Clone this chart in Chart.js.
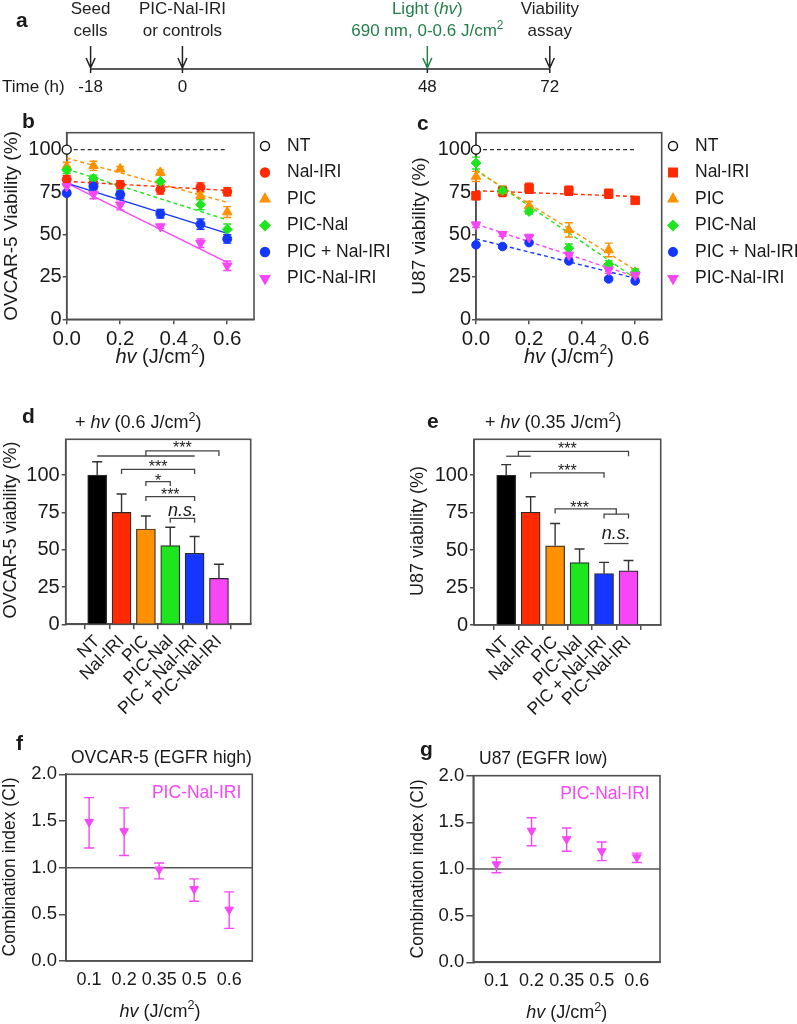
<!DOCTYPE html>
<html>
<head>
<meta charset="utf-8">
<script src="https://cdn.jsdelivr.net/npm/chart.js@4.4.1/dist/chart.umd.min.js"></script>
<style>
  body { margin: 0; background: #fff; }
  #page { position: relative; width: 797px; height: 1024px; overflow: hidden; background: #fff; }
  .panel { position: absolute; }
</style>
</head>
<body>
<div id="page"></div>
<script>
// ---------- data ----------
const timePoints = [-18, 0, 48, 72];
const timeTitles = [["Seed", "cells"], ["PIC-Nal-IRI", "or controls"], ["Light (_hv_)", "690 nm, 0-0.6 J/cm^2"], ["Viability", "assay"]];

const groups = ["NT", "Nal-IRI", "PIC", "PIC-Nal", "PIC + Nal-IRI", "PIC-Nal-IRI"];
const doses = [0, 0.1, 0.2, 0.35, 0.5, 0.6];
const fitDoses = [0, 0.6];
const viabilityTicks = [0, 25, 50, 75, 100];
const doseTicks = [0, 0.2, 0.4, 0.6];

// b: OVCAR-5 viability (%) vs light dose
const ovNT = [100];
const ovNalIRI = [82.5, 80, 79.3, 76.4, 77.9, 75.2];
const ovNalIRISd = [2.3, 2, 2.4, 2.6, 2.5, 2.4];
const ovNalIRIFit = [81.3, 76];
const ovPIC = [90.1, 90.5, 88.6, 86.6, 72.8, 63.2];
const ovPICSd = [2.5, 2.7, 1.5, 1.5, 2, 3.2];
const ovPICFit = [95.1, 68.9];
const ovPICNal = [88, 83, 73.8, 81.3, 67.5, 53];
const ovPICNalSd = [2, 2, 2.5, 4, 2.9, 3.2];
const ovPICNalFit = [88.6, 58.6];
const ovCombo = [74.4, 78.3, 73.5, 62.2, 56.1, 47.4];
const ovComboSd = [1, 2, 2, 2.5, 3, 2.5];
const ovComboFit = [80.3, 50.7];
const ovPNI = [78.3, 73.8, 67.5, 54.7, 44.8, 31.6];
const ovPNISd = [2, 2.7, 3, 1, 2.5, 2.8];
const ovPNIFit = [80.3, 33.6];

// c: U87 viability (%) vs light dose
const u87NT = [100];
const u87NalIRI = [72.8, 75.4, 77.3, 75.8, 74.0, 70.1];
const u87NalIRISd = [2, 3, 3, 2.7, 2.7, 1.5];
const u87NalIRIFit = [75.8, 72.4];
const u87PIC = [84.2, 75.8, 66.9, 52.7, 40.9, 27.7];
const u87PICSd = [3, 2, 2.5, 4.2, 4, 2];
const u87PICFit = [87.6, 29.1];
const u87PICNal = [92.1, 75.8, 63.6, 41.9, 32.4, 27.7];
const u87PICNalSd = [3.5, 2, 1.5, 2.5, 2.2, 2];
const u87PICNalFit = [88.2, 24.2];
const u87Combo = [43.9, 42.9, 45.2, 34.4, 23.8, 22.6];
const u87ComboSd = [1, 1, 1, 1, 1, 1];
const u87ComboFit = [47.4, 24.2];
const u87PNI = [55.7, 50.2, 48.2, 37.9, 29.1, 26.1];
const u87PNISd = [1.5, 1.2, 1.8, 1.5, 2, 1.5];
const u87PNIFit = [56.1, 25.2];

// d, e: viability (%) at a single light dose
const ovBar = [100, 75, 63.9, 52.7, 47.6, 30.8];
const ovBarSd = [9, 12.3, 8.7, 12.3, 11.2, 9.4];
const u87Bar = [100, 75.3, 52.9, 41.6, 34.4, 36.2];
const u87BarSd = [7.1, 10.3, 14.9, 9.1, 7.4, 6.9];

// significance brackets: [bar index, viability] corners, and labels
const ovSigLines = [
  [[0, 112.8], [4, 112.8]],
  [[2, 112.8], [2, 116.2], [5, 116.2], [5, 112.8]],
  [[1, 100.8], [1, 103.9], [4, 103.9], [4, 100.8]],
  [[2, 92.7], [2, 95.6], [3, 95.6], [3, 92.7]],
  [[2, 82.7], [2, 85.6], [4, 85.6], [4, 82.7]],
  [[3, 68.1], [3, 71.0], [4, 71.0], [4, 68.1]]
];
const ovSigText = [["***", 3.5, 120.2], ["***", 2.5, 107.4], ["*", 2.5, 98.5], ["***", 3, 88.9], ["n.s.", 3.5, 76.2]];
const u87SigLines = [
  [[0, 112.7], [1, 112.7]],
  [[0.5, 112.7], [0.5, 116.0], [5, 116.0], [5, 112.7]],
  [[1, 98.4], [1, 101.6], [4, 101.6], [4, 98.4]],
  [[2, 74.4], [2, 77.6], [4.5, 77.6], [4.5, 74.0]],
  [[4, 71.1], [4, 74.0], [5, 74.0], [5, 71.1]],
  [[4, 54.4], [5, 54.4]]
];
const u87SigText = [["***", 2.5, 119.5], ["***", 2.5, 105.1], ["***", 3, 80.7], ["n.s.", 4.5, 60.7]];

// f, g: combination index of PIC-Nal-IRI
const ciDoses = ["0.1", "0.2", "0.35", "0.5", "0.6"];
const ciTicks = [0, 0.5, 1, 1.5, 2];
const ciRef = 1;
const ovCI = [1.49, 1.39, 0.98, 0.77, 0.55];
const ovCILow = [1.21, 1.13, 0.88, 0.64, 0.35];
const ovCIHigh = [1.75, 1.64, 1.05, 0.88, 0.74];
const u87CI = [1.05, 1.41, 1.32, 1.19, 1.125];
const u87CILow = [0.96, 1.25, 1.19, 1.09, 1.07];
const u87CIHigh = [1.125, 1.55, 1.44, 1.29, 1.17];

// ---------- styles ----------
const FONT = '"Liberation Sans", Arial, Helvetica, sans-serif';
const INK = '#1a1a1a';
const AXIS = '#505050';
const GREEN = '#23804a';
const MAGENTA = '#f646f6';
const seriesColors = ['#ff2a00', '#ff9000', '#1ee61e', '#1436ff', MAGENTA];
const barColors = ['#000000', '#ff2a00', '#ff9000', '#1ee61e', '#1436ff', MAGENTA];

Chart.defaults.font.family = FONT;
Chart.defaults.color = INK;

const page = document.getElementById('page');

// text with _italic_ runs and ^superscript characters
function drawRich(ctx, str, x, y, o = {}) {
  const size = o.size || 17;
  const parts = [];
  let it = false, buf = '';
  const push = () => { if (buf) parts.push({ t: buf, it }); buf = ''; };
  for (let i = 0; i < str.length; i++) {
    const ch = str[i];
    if (ch === '_') { push(); it = !it; }
    else if (ch === '^') { push(); parts.push({ t: str[++i], it, sup: true }); }
    else buf += ch;
  }
  push();
  const font = p => `${p.it ? 'italic ' : ''}${o.bold ? 'bold ' : ''}${p.sup ? size * 0.7 : size}px ${FONT}`;
  ctx.save();
  let w = 0;
  parts.forEach(p => { ctx.font = font(p); p.w = ctx.measureText(p.t).width; w += p.w; });
  ctx.translate(x, y);
  if (o.rot) ctx.rotate(o.rot * Math.PI / 180);
  ctx.fillStyle = o.color || INK;
  ctx.textBaseline = o.base || 'middle';
  ctx.textAlign = 'left';
  let cx = o.align === 'center' ? -w / 2 : o.align === 'right' ? -w : 0;
  parts.forEach(p => { ctx.font = font(p); ctx.fillText(p.t, cx, p.sup ? -size * 0.33 : 0); cx += p.w; });
  ctx.restore();
}

function addCanvas(box) {
  const div = document.createElement('div');
  div.className = 'panel';
  div.style.left = box[0] + 'px';
  div.style.top = box[1] + 'px';
  div.style.width = box[2] + 'px';
  div.style.height = box[3] + 'px';
  const cv = document.createElement('canvas');
  cv.width = box[2];
  cv.height = box[3];
  cv.style.width = box[2] + 'px';
  cv.style.height = box[3] + 'px';
  div.appendChild(cv);
  page.appendChild(div);
  return cv.getContext('2d');
}

const framePlugin = {
  id: 'frame',
  beforeDatasetsDraw(chart) {
    const { ctx, chartArea: a } = chart;
    ctx.save();
    ctx.strokeStyle = AXIS;
    ctx.lineWidth = 1.6;
    ctx.strokeRect(a.left, a.top, a.right - a.left, a.bottom - a.top);
    ctx.restore();
  }
};

function drawErrors(chart, wantUp) {
  const { ctx } = chart;
  const ys = chart.scales.y;
  chart.data.datasets.forEach((ds, di) => {
    const eb = ds.errorBar;
    if (!eb || !!eb.up !== wantUp) return;
    const meta = chart.getDatasetMeta(di);
    ctx.save();
    ctx.strokeStyle = eb.color;
    ctx.lineWidth = 1.4;
    meta.data.forEach((el, i) => {
      const v = ds.data[i].y;
      let hi, lo;
      if (eb.hi) { hi = eb.hi[i]; lo = eb.lo[i]; }
      else { hi = v + eb.sd[i]; lo = eb.up ? v : v - eb.sd[i]; }
      const x = el.x, yh = ys.getPixelForValue(hi), yl = ys.getPixelForValue(lo);
      ctx.beginPath();
      ctx.moveTo(x, yh); ctx.lineTo(x, yl);
      ctx.moveTo(x - eb.cap / 2, yh); ctx.lineTo(x + eb.cap / 2, yh);
      if (!eb.up) { ctx.moveTo(x - eb.cap / 2, yl); ctx.lineTo(x + eb.cap / 2, yl); }
      ctx.stroke();
    });
    ctx.restore();
  });
}
const errorPlugin = {
  id: 'errors',
  beforeDatasetsDraw(chart) { drawErrors(chart, false); },
  afterDatasetsDraw(chart) { drawErrors(chart, true); }
};

function textPlugin(box, items) {
  return {
    id: 'texts',
    afterDraw(chart) {
      items.forEach(it => drawRich(chart.ctx, it.t, it.x - box[0], it.y - box[1], it));
    }
  };
}

// chart whose plot rectangle is pinned to area = [left, top, right, bottom] on the page
function panel(box, area, config) {
  const ctx = addCanvas(box);
  const o = config.options;
  o.responsive = false;
  o.animation = false;
  o.devicePixelRatio = 1;
  o.events = [];
  o.layout = { padding: { left: 0, top: area[1] - box[1], right: box[0] + box[2] - area[2], bottom: 0 } };
  o.scales.x.afterFit = s => { s.height = box[1] + box[3] - area[3]; };
  o.scales.y.afterFit = s => { s.width = area[0] - box[0]; };
  o.plugins = Object.assign({ legend: { display: false }, tooltip: { enabled: false } }, o.plugins || {});
  return new Chart(ctx, config);
}

function axisStyle(extra) {
  return Object.assign({
    grid: { drawOnChartArea: false, tickLength: 4, color: AXIS, lineWidth: 1.5 },
    border: { color: AXIS, width: 1.6 }
  }, extra);
}

// ---------- a: timeline ----------
{
  const ctx = addCanvas([0, 0, 797, 100]);
  const lineY = 69;
  new Chart(ctx, {
    type: 'scatter',
    data: { datasets: [{ data: timePoints.map(t => ({ x: t, y: 0 })), pointRadius: 0 }] },
    options: {
      responsive: false, animation: false, devicePixelRatio: 1, events: [],
      layout: { padding: { left: 90.6, right: 797 - 549.8, top: 60, bottom: 20 } },
      scales: { x: { type: 'linear', min: -18, max: 72, display: false }, y: { min: -1, max: 1, display: false } },
      plugins: { legend: { display: false }, tooltip: { enabled: false } }
    },
    plugins: [{
      id: 'timeline',
      afterDraw(chart) {
        const c = chart.ctx, xs = chart.scales.x;
        c.save();
        c.strokeStyle = '#222';
        c.lineWidth = 1.5;
        c.beginPath();
        c.moveTo(xs.getPixelForValue(timePoints[0]), lineY);
        c.lineTo(xs.getPixelForValue(timePoints[timePoints.length - 1]), lineY);
        c.stroke();
        timePoints.forEach((t, i) => {
          const x = xs.getPixelForValue(t);
          const col = i === 2 ? GREEN : '#222';
          c.strokeStyle = '#222';
          c.beginPath(); c.moveTo(x, lineY); c.lineTo(x, lineY + 4); c.stroke();
          c.strokeStyle = col;
          c.beginPath();
          c.moveTo(x, 46); c.lineTo(x, lineY - 1);
          c.moveTo(x - 4.5, lineY - 11); c.lineTo(x, lineY - 1); c.lineTo(x + 4.5, lineY - 11);
          c.stroke();
          drawRich(c, timeTitles[i][0], x, 9, { align: 'center', color: col });
          drawRich(c, timeTitles[i][1], x, 31, { align: 'center', color: col });
          drawRich(c, String(t), x, 87.5, { align: 'center' });
        });
        drawRich(c, 'Time (h)', 2, 87.5, {});
        drawRich(c, 'a', 16, 27, { bold: true, size: 21, base: 'alphabetic' });
        c.restore();
      }
    }]
  });
}

// ---------- b, c: viability vs dose ----------
function doseDatasets(nt, series, markers, dashed) {
  const sets = [{
    type: 'line', data: fitDoses.map(x => ({ x, y: nt[0] })), borderColor: '#333', borderWidth: 1.3,
    borderDash: [4, 3], pointRadius: 0, order: 20, clip: false
  }];
  series.forEach((s, k) => {
    const col = seriesColors[k];
    sets.push({
      type: 'line', data: fitDoses.map((x, i) => ({ x, y: s.fit[i] })), borderColor: col, borderWidth: 1.4,
      borderDash: dashed[k] ? [4, 3] : [], pointRadius: 0, order: 10, clip: false
    });
    sets.push({
      type: 'scatter', data: doses.map((x, i) => ({ x, y: s.vals[i] })),
      pointStyle: markers[k].style, pointRotation: markers[k].rot, pointRadius: markers[k].r,
      pointBackgroundColor: col, pointBorderColor: col, pointBorderWidth: 1, order: 6 - k, clip: false,
      errorBar: { sd: s.sd, cap: 8, color: col }
    });
  });
  sets.push({
    type: 'scatter', data: [{ x: 0, y: nt[0] }], pointStyle: 'circle', pointRadius: 4.5,
    pointBackgroundColor: '#fff', pointBorderColor: '#111', pointBorderWidth: 1.4, order: 0, clip: false
  });
  return sets;
}

function legendPlugin(box, markers, mx, tx) {
  return {
    id: 'legendDraw',
    afterDraw(chart) {
      const c = chart.ctx;
      groups.forEach((g, i) => {
        const y = 146 + 26.5 * i - box[1];
        c.save();
        if (i === 0) {
          c.fillStyle = '#fff'; c.strokeStyle = '#111';
          Chart.helpers.drawPoint(c, { pointStyle: 'circle', radius: 4.5, rotation: 0, borderWidth: 1.4 }, mx - box[0], y);
        } else {
          const m = markers[i - 1];
          c.fillStyle = seriesColors[i - 1]; c.strokeStyle = seriesColors[i - 1];
          Chart.helpers.drawPoint(c, { pointStyle: m.style, radius: m.r, rotation: m.rot, borderWidth: 1 }, mx - box[0], y);
        }
        c.restore();
        drawRich(c, g, tx - box[0], y, { size: 17.5 });
      });
    }
  };
}

function doseScales() {
  return {
    x: axisStyle({
      type: 'linear', min: 0, max: 0.7,
      afterBuildTicks: s => { s.ticks = doseTicks.map(v => ({ value: v })); },
      ticks: { callback: v => v.toFixed(1), font: { size: 20.5 }, padding: 3, maxRotation: 0, color: INK },
      grid: { drawOnChartArea: false, tickLength: 5, color: AXIS, lineWidth: 1.5 }
    }),
    y: axisStyle({
      min: 0, max: 110,
      afterBuildTicks: s => { s.ticks = viabilityTicks.map(v => ({ value: v })); },
      ticks: { font: { size: 20 }, padding: 1, color: INK }
    })
  };
}

{
  const box = [0, 110, 400, 270];
  const markers = [
    { style: 'circle', rot: 0, r: 4.5 }, { style: 'triangle', rot: 0, r: 5.5 }, { style: 'rectRot', rot: 0, r: 5 },
    { style: 'circle', rot: 0, r: 4.5 }, { style: 'triangle', rot: 180, r: 5.5 }
  ];
  const series = [
    { vals: ovNalIRI, sd: ovNalIRISd, fit: ovNalIRIFit }, { vals: ovPIC, sd: ovPICSd, fit: ovPICFit },
    { vals: ovPICNal, sd: ovPICNalSd, fit: ovPICNalFit }, { vals: ovCombo, sd: ovComboSd, fit: ovComboFit },
    { vals: ovPNI, sd: ovPNISd, fit: ovPNIFit }
  ];
  panel(box, [66.7, 132.7, 254, 319.3], {
    type: 'scatter',
    data: { datasets: doseDatasets(ovNT, series, markers, [true, true, true, false, false]) },
    options: { scales: doseScales() },
    plugins: [framePlugin, errorPlugin, legendPlugin(box, markers, 265, 287), textPlugin(box, [
      { t: 'b', x: 22, y: 128, bold: true, size: 21, base: 'alphabetic' },
      { t: 'OVCAR-5 Viability (%)', x: 12, y: 226, rot: -90, size: 19, align: 'center' },
      { t: '_hv_ (J/cm^2)', x: 160.4, y: 357, size: 20, align: 'center' }
    ])]
  });
}

{
  const box = [400, 110, 397, 270];
  const markers = [
    { style: 'rect', rot: 0, r: 6 }, { style: 'triangle', rot: 0, r: 5.5 }, { style: 'rectRot', rot: 0, r: 5 },
    { style: 'circle', rot: 0, r: 4.3 }, { style: 'triangle', rot: 180, r: 5.5 }
  ];
  const series = [
    { vals: u87NalIRI, sd: u87NalIRISd, fit: u87NalIRIFit }, { vals: u87PIC, sd: u87PICSd, fit: u87PICFit },
    { vals: u87PICNal, sd: u87PICNalSd, fit: u87PICNalFit }, { vals: u87Combo, sd: u87ComboSd, fit: u87ComboFit },
    { vals: u87PNI, sd: u87PNISd, fit: u87PNIFit }
  ];
  panel(box, [476, 132.7, 661.7, 319.3], {
    type: 'scatter',
    data: { datasets: doseDatasets(u87NT, series, markers, [true, true, true, true, true]) },
    options: { scales: doseScales() },
    plugins: [framePlugin, errorPlugin, legendPlugin(box, markers, 673, 695), textPlugin(box, [
      { t: 'c', x: 417, y: 130, bold: true, size: 21, base: 'alphabetic' },
      { t: 'U87 viability (%)', x: 420, y: 226, rot: -90, size: 19, align: 'center' },
      { t: '_hv_ (J/cm^2)', x: 568.9, y: 357, size: 20, align: 'center' }
    ])]
  });
}

// ---------- d, e: bars ----------
function sigPlugin(lines, texts) {
  return {
    id: 'sig',
    afterDatasetsDraw(chart) {
      const { ctx, scales: { x, y } } = chart;
      ctx.save();
      ctx.strokeStyle = '#444';
      ctx.lineWidth = 1.3;
      lines.forEach(pl => {
        ctx.beginPath();
        pl.forEach(([vx, vy], k) => {
          const px = x.getPixelForValue(vx), py = y.getPixelForValue(vy);
          if (k) ctx.lineTo(px, py); else ctx.moveTo(px, py);
        });
        ctx.stroke();
      });
      ctx.restore();
      texts.forEach(([t, vx, vy]) => {
        const stars = t.includes('*');
        drawRich(ctx, stars ? t : '_' + t + '_', x.getPixelForValue(vx), y.getPixelForValue(vy) + (stars ? 4 : 0),
          { size: stars ? 16 : 18, align: 'center' });
      });
    }
  };
}

function barChart(box, area, xRange, vals, sds, lines, texts, labels) {
  panel(box, area, {
    type: 'bar',
    data: {
      datasets: [{
        data: groups.map((g, i) => ({ x: i, y: vals[i] })),
        backgroundColor: barColors, borderColor: '#2b2b2b', borderWidth: 1.2, barThickness: 19,
        clip: false, errorBar: { sd: sds, up: true, cap: 10, color: '#333' }
      }]
    },
    options: {
      scales: {
        x: axisStyle({
          type: 'linear', min: xRange[0], max: xRange[1],
          afterBuildTicks: s => { s.ticks = groups.map((g, i) => ({ value: i })); },
          ticks: { callback: v => groups[v], minRotation: 45, maxRotation: 45, autoSkip: false, font: { size: 17.5 }, padding: 2, color: INK },
          grid: { drawOnChartArea: false, tickLength: 5, color: AXIS, lineWidth: 1.5 }
        }),
        y: axisStyle({
          min: 0, max: 124,
          afterBuildTicks: s => { s.ticks = viabilityTicks.map(v => ({ value: v })); },
          ticks: { font: { size: 20 }, padding: 2, color: INK }
        })
      }
    },
    plugins: [framePlugin, errorPlugin, sigPlugin(lines, texts), textPlugin(box, labels)]
  });
}

barChart([0, 385, 400, 345], [65.7, 439.3, 250.7, 624.3], [-0.66, 5.67], ovBar, ovBarSd, ovSigLines, ovSigText, [
  { t: 'd', x: 22, y: 423.3, bold: true, size: 21, base: 'alphabetic' },
  { t: '+ _hv_ (0.6 J/cm^2)', x: 75, y: 423, size: 18 },
  { t: 'OVCAR-5 viability (%)', x: 11, y: 530, rot: -90, size: 18, align: 'center' }
]);
barChart([400, 385, 397, 345], [474, 439.3, 660.7, 625], [-0.68, 5.68], u87Bar, u87BarSd, u87SigLines, u87SigText, [
  { t: 'e', x: 427, y: 428.3, bold: true, size: 21, base: 'alphabetic' },
  { t: '+ _hv_ (0.35 J/cm^2)', x: 485, y: 423, size: 18 },
  { t: 'U87 viability (%)', x: 418.5, y: 531, rot: -90, size: 18, align: 'center' }
]);

// ---------- f, g: combination index ----------
const ciRefPlugin = {
  id: 'ciRef',
  beforeDatasetsDraw(chart) {
    const { ctx, chartArea: a, scales: { y } } = chart;
    const py = y.getPixelForValue(ciRef);
    ctx.save();
    ctx.strokeStyle = '#555';
    ctx.lineWidth = 1.5;
    ctx.beginPath(); ctx.moveTo(a.left, py); ctx.lineTo(a.right, py); ctx.stroke();
    ctx.restore();
  }
};

function ciChart(box, area, vals, lo, hi, labels, tag) {
  panel(box, area, {
    type: 'scatter',
    data: {
      datasets: [{
        data: ciDoses.map((d, i) => ({ x: i, y: vals[i] })),
        pointStyle: 'triangle', pointRotation: 180, pointRadius: 5,
        pointBackgroundColor: MAGENTA, pointBorderColor: MAGENTA, pointBorderWidth: 1, clip: false,
        errorBar: { lo, hi, cap: 10, color: MAGENTA }
      }]
    },
    options: {
      scales: {
        x: axisStyle({
          type: 'linear', min: -0.66, max: 4.66,
          afterBuildTicks: s => { s.ticks = ciDoses.map((d, i) => ({ value: i })); },
          ticks: { callback: v => ciDoses[v], font: { size: 18 }, padding: 8, maxRotation: 0, color: INK },
          grid: { display: false, drawTicks: false }
        }),
        y: axisStyle({
          min: 0, max: 2,
          afterBuildTicks: s => { s.ticks = ciTicks.map(v => ({ value: v })); },
          ticks: { callback: v => v.toFixed(1), font: { size: 18.5 }, padding: 2, color: INK },
          grid: { drawOnChartArea: false, tickLength: 7, color: AXIS, lineWidth: 1.5 }
        })
      }
    },
    plugins: [framePlugin, ciRefPlugin, errorPlugin, textPlugin(box, labels), {
      id: 'tag',
      afterDraw(chart) {
        const { x, y } = chart.scales;
        drawRich(chart.ctx, 'PIC-Nal-IRI', x.getPixelForValue(tag[0]), y.getPixelForValue(tag[1]), { size: 17.5, align: 'center', color: MAGENTA });
      }
    }]
  });
}

ciChart([0, 730, 400, 294], [66, 774.3, 252.3, 961], ovCI, ovCILow, ovCIHigh, [
  { t: 'f', x: 16, y: 750, bold: true, size: 21, base: 'alphabetic' },
  { t: 'OVCAR-5 (EGFR high)', x: 71, y: 758.3, size: 17.5 },
  { t: 'Combination index (CI)', x: 10, y: 867, rot: -90, size: 17.5, align: 'center' },
  { t: '_hv_ (J/cm^2)', x: 160, y: 1011.7, size: 18, align: 'center' }
], [3.07, 1.8]);
ciChart([400, 730, 397, 294], [473.3, 775.7, 660, 962.3], u87CI, u87CILow, u87CIHigh, [
  { t: 'g', x: 420, y: 755.5, bold: true, size: 21, base: 'alphabetic' },
  { t: 'U87 (EGFR low)', x: 479, y: 759.3, size: 17.5 },
  { t: 'Combination index (CI)', x: 418.5, y: 869, rot: -90, size: 17.5, align: 'center' },
  { t: '_hv_ (J/cm^2)', x: 566.7, y: 1013, size: 18, align: 'center' }
], [3.09, 1.8]);
</script>
</body>
</html>
